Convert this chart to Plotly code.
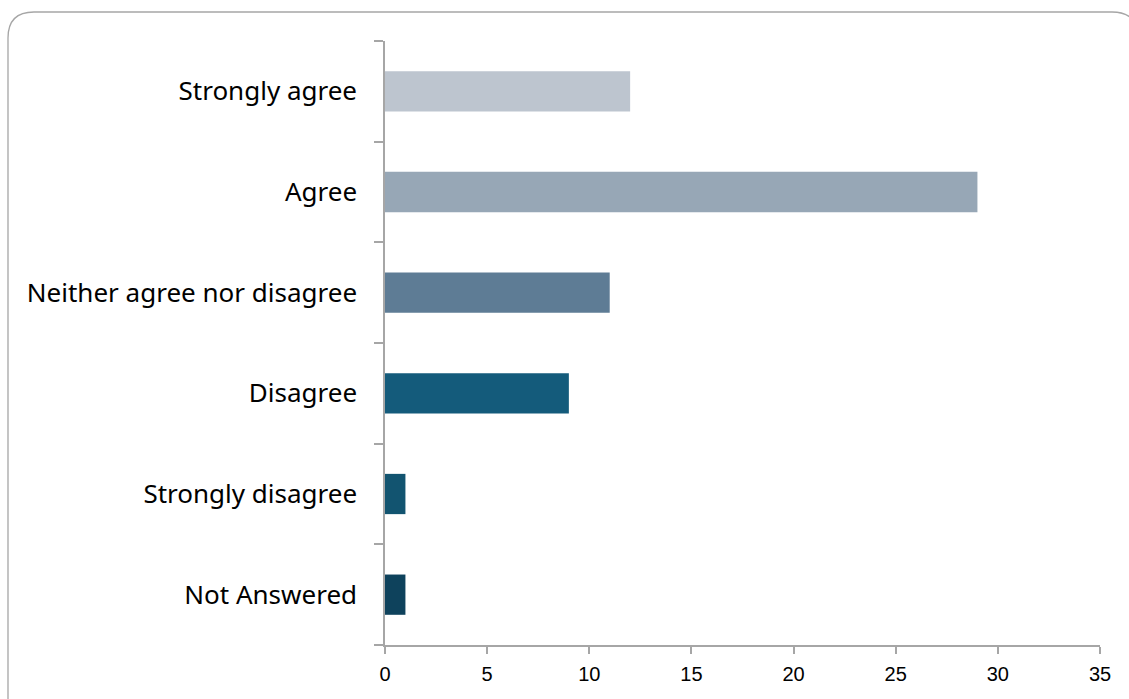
import plotly.graph_objects as go

# Survey responses (top to bottom as displayed)
categories = ["Strongly agree", "Agree", "Neither agree nor disagree",
              "Disagree", "Strongly disagree", "Not Answered"]
counts = [12, 29, 11, 9, 1, 1]
bar_colors = ["#BDC5CF", "#97A7B6", "#5E7C95", "#145B7B", "#125470", "#0E425C"]
x_ticks = [0, 5, 10, 15, 20, 25, 30, 35]

fig = go.Figure(go.Bar(
    x=counts,
    y=categories,
    orientation="h",
    marker=dict(color=bar_colors, line=dict(width=0)),
    width=0.4,
    hoverinfo="x+y",
))

W, H = 1129, 699
L, R, T, B = 385, 29, 41, 54
pw, ph = W - L - R, H - T - B


def px(xp):
    return (xp - L) / pw


def py(yp):
    return (H - B - yp) / ph


# Rounded outer frame of the chart area
x0, x1, y0, y1, r = 8, 1138, 12, 712, 26
frame = (
    f"M {px(x0)},{py(y1)} "
    f"L {px(x0)},{py(y0 + r)} "
    f"Q {px(x0)},{py(y0)} {px(x0 + r)},{py(y0)} "
    f"L {px(x1 - r)},{py(y0)} "
    f"Q {px(x1)},{py(y0)} {px(x1)},{py(y0 + r)} "
    f"L {px(x1)},{py(y1)}"
)

fig.update_layout(
    width=W, height=H,
    margin=dict(l=L, r=R, t=T, b=B, pad=0),
    paper_bgcolor="white",
    plot_bgcolor="white",
    showlegend=False,
    bargap=0.6,
    shapes=[dict(type="path", path=frame, xref="paper", yref="paper",
                 line=dict(color="#A6A6A6", width=1.3), layer="below")],
    xaxis=dict(
        range=[0, 35],
        tickvals=x_ticks,
        ticktext=[str(v) for v in x_ticks],
        showgrid=False, zeroline=False,
        showline=True, linecolor="#A6A6A6", linewidth=1.5,
        ticks="outside", ticklen=7, tickcolor="#A6A6A6", tickwidth=1.5,
        tickfont=dict(family="Liberation Sans, Arial", size=20, color="#000000"),
        ticklabelstandoff=3,
        fixedrange=True,
    ),
    yaxis=dict(
        categoryorder="array",
        categoryarray=categories[::-1],
        showgrid=False, zeroline=False,
        showline=True, linecolor="#A6A6A6", linewidth=1.5,
        ticks="outside", tickson="boundaries", ticklen=9,
        tickcolor="#A6A6A6", tickwidth=1.5,
        tickfont=dict(family="Noto Sans, Open Sans", size=26, color="#000000"),
        ticklabelstandoff=21,
        fixedrange=True,
    ),
)

fig.write_html("out.html")
